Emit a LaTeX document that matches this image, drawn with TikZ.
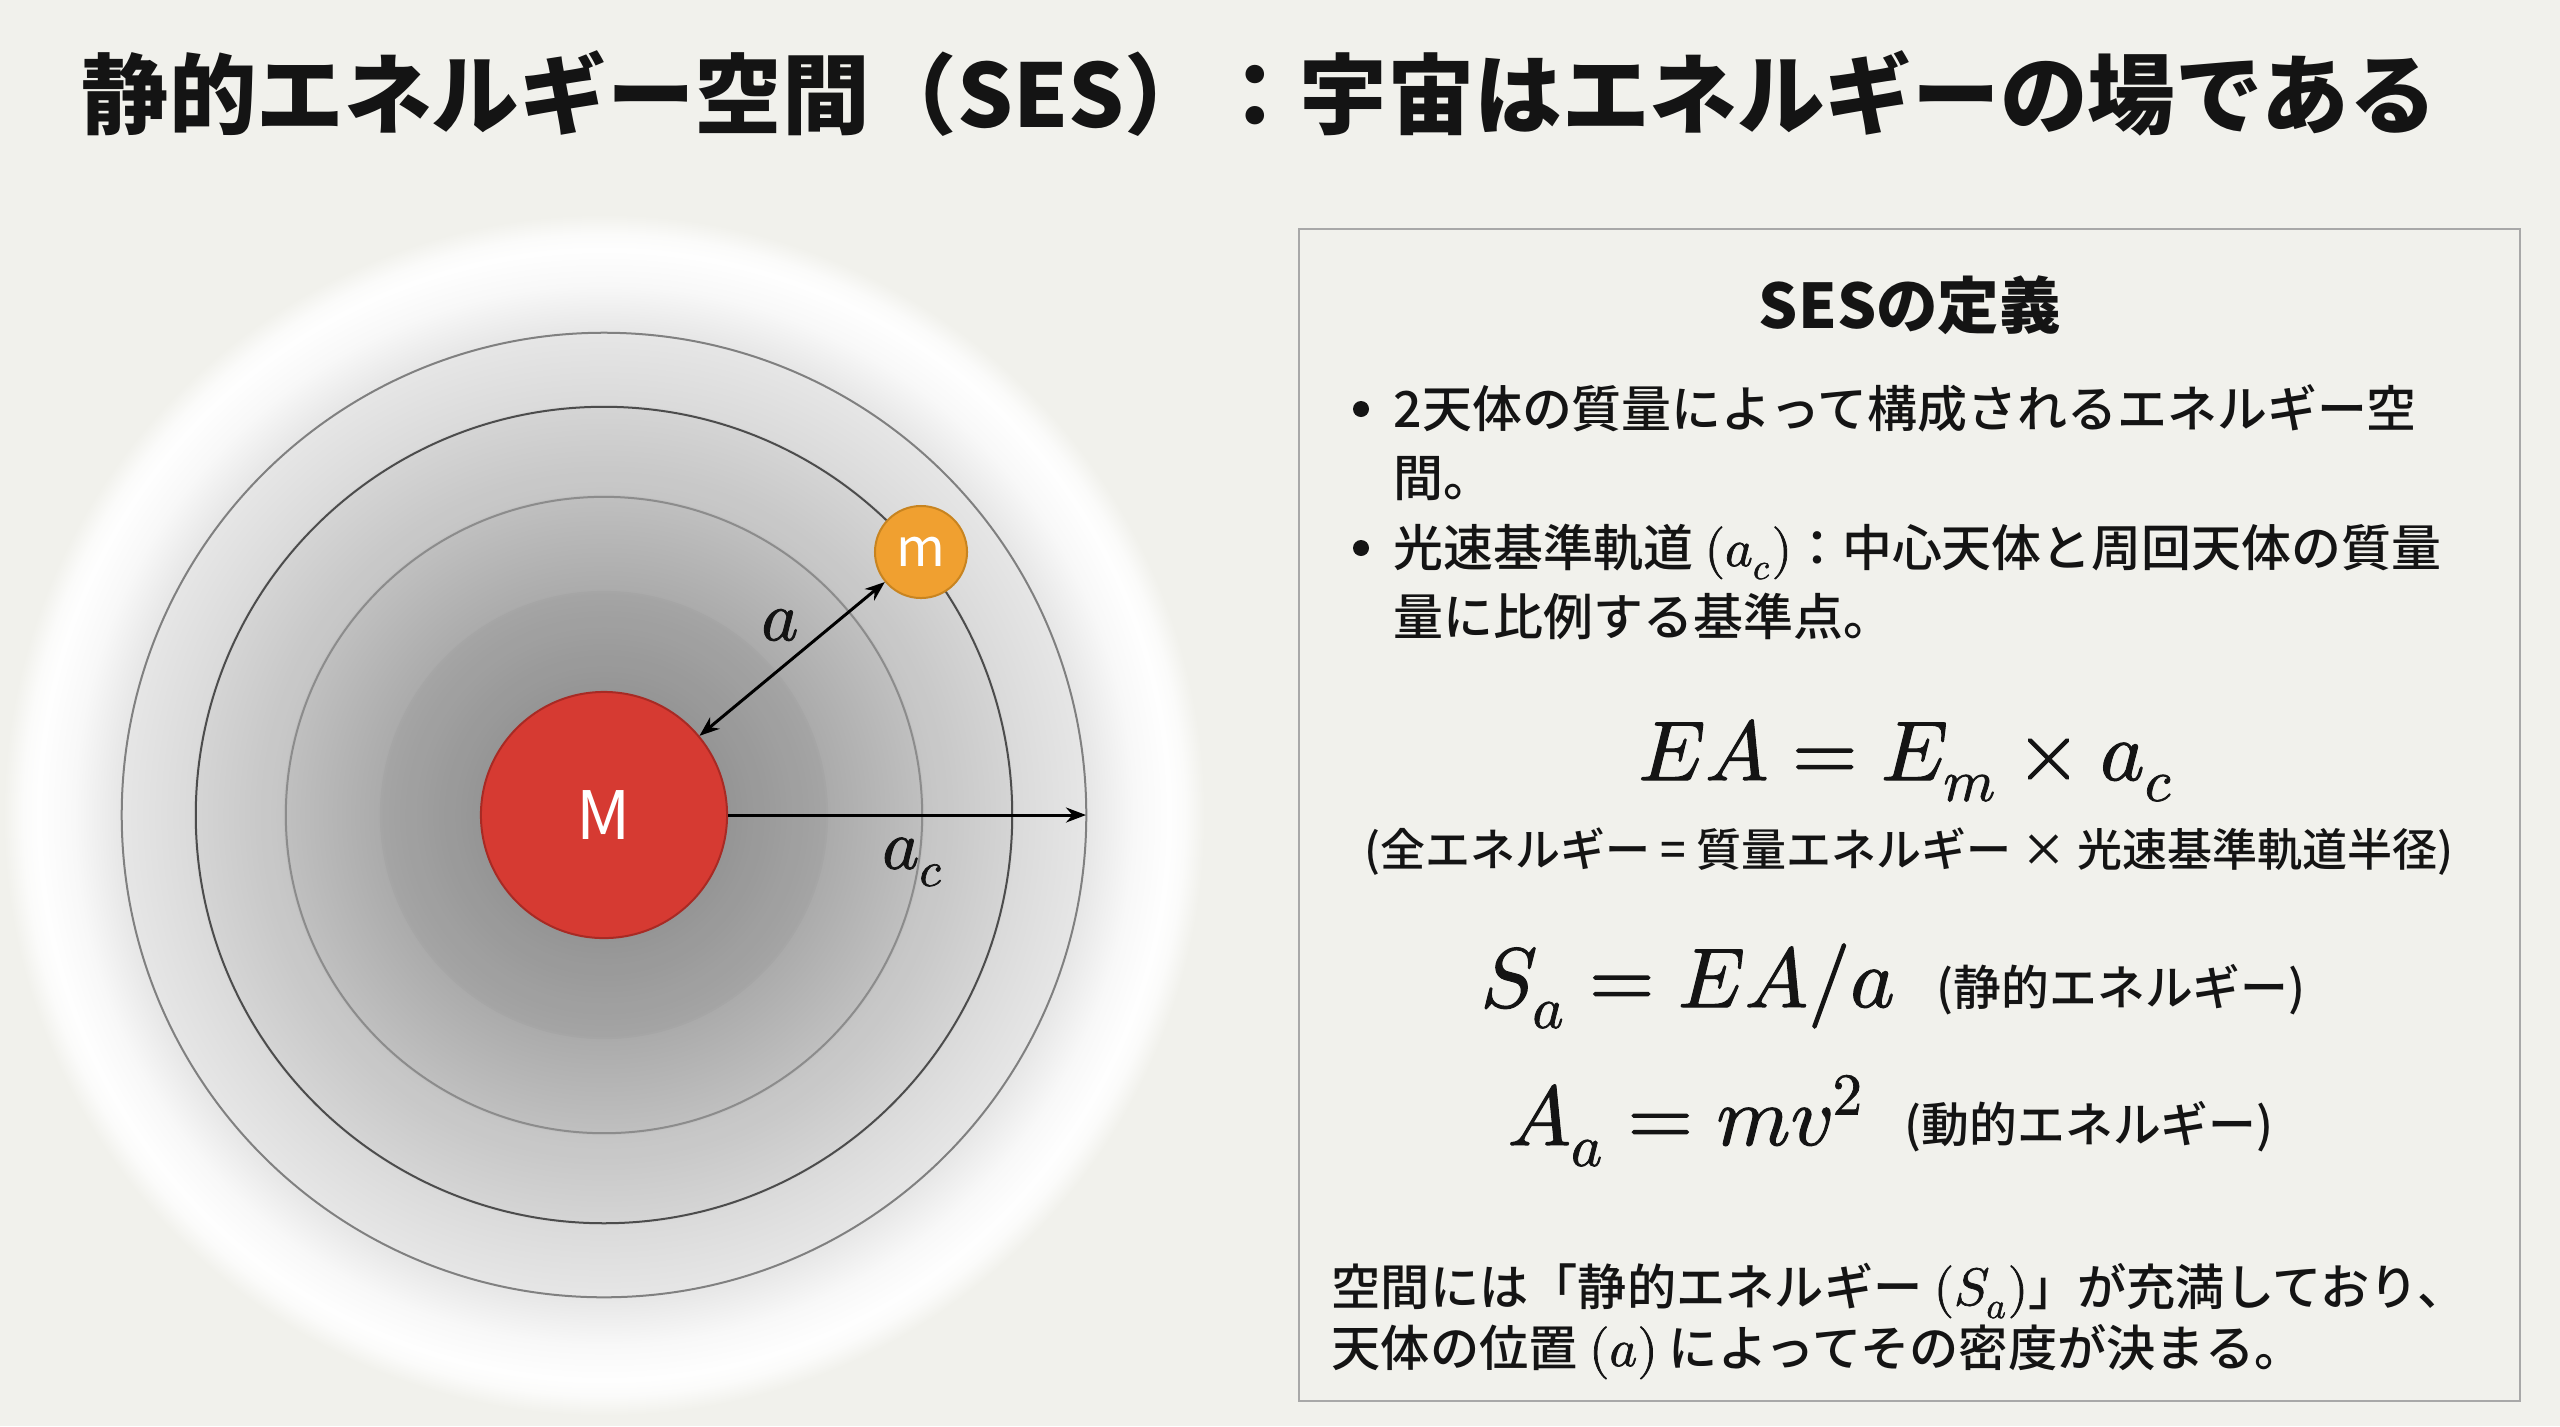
\documentclass[tikz,border=0pt]{standalone}
\usepackage{fontspec}
\usepackage{unicode-math}
\setmainfont{Noto Sans CJK JP}
\setmathfont{Latin Modern Math}[FakeBold=1.3]
\newfontfamily\jpmed{Noto Sans CJK JP Medium}
\usetikzlibrary{arrows.meta}
\definecolor{bg}{HTML}{F1F1EC}
\definecolor{ink}{HTML}{141414}
\definecolor{g0}{HTML}{9A9A9A}
\definecolor{g1}{HTML}{A2A2A2}
\definecolor{g2}{HTML}{B4B4B4}
\definecolor{g3}{HTML}{C9C9C9}
\definecolor{g4}{HTML}{DADADA}
\definecolor{g5}{HTML}{E6E6E6}
\definecolor{g6}{HTML}{F8F8F8}
\definecolor{g7}{HTML}{FEFEFE}
\definecolor{g8}{HTML}{FBFBFA}
\definecolor{redM}{HTML}{D63A32}
\definecolor{redMb}{HTML}{A82A24}
\definecolor{orm}{HTML}{F0A030}
\definecolor{ormb}{HTML}{C88420}
\definecolor{boxline}{HTML}{A8A8A8}
\pgfdeclareradialshading{field}{\pgfpoint{0bp}{0bp}}{%
  color(0bp)=(g0); color(5.17bp)=(g1); color(9.33bp)=(g2); color(13.33bp)=(g3);
  color(17.08bp)=(g4); color(20.08bp)=(g5); color(22.08bp)=(g6); color(23.54bp)=(g7);
  color(24.17bp)=(g8); color(25bp)=(bg); color(50bp)=(bg)}
\newcommand{\inmath}[1]{{\fontsize{15}{17}\selectfont$#1$}}
\tikzset{
  body/.style={font=\jpmed\fontsize{14.2}{17}\selectfont, anchor=base west, inner sep=0pt, text=ink},
  para/.style={font=\jpmed\fontsize{14}{17}\selectfont, anchor=base west, inner sep=0pt, text=ink},
  note/.style={font=\jpmed\fontsize{13.6}{16}\selectfont, anchor=base west, inner sep=0pt, text=ink},
  eqn/.style={font=\fontsize{24}{29}\selectfont, inner sep=0pt, text=ink},
  bul/.style={circle, fill=ink, minimum size=0.16cm, inner sep=0pt},
  orbit/.style={line width=0.02cm},
  dim/.style={line width=0.03cm, draw=black},
  mathlbl/.style={font=\fontsize{20}{24}\selectfont, inner sep=0pt, text=ink}
}
\begin{document}
\begin{tikzpicture}[x=0.01cm,y=-0.01cm]
\fill[bg] (0,0) rectangle (2560,1426);
\useasboundingbox (0,0) rectangle (2560,1426);
% title
\node[font=\bfseries\fontsize{24.9}{30}\selectfont, anchor=base west, inner sep=0pt, text=ink] (title) at (81,127) {静的エネルギー空間（SES）：宇宙はエネルギーの場である};
% energy field
\shade[shading=field] (604,815) circle[radius=6.0cm];
\fill[black, opacity=0.02] (604,815) circle[radius=4.10cm];
\fill[black, opacity=0.025] (604,815) circle[radius=3.20cm];
\fill[black, opacity=0.03] (604,815) circle[radius=2.23cm];
\draw[orbit, draw=black!50] (604,815) circle[radius=4.82cm];
\draw[orbit, draw=black!70] (604,815) circle[radius=4.08cm];
\draw[orbit, draw=black!45] (604,815) circle[radius=3.18cm];
\draw[orbit, draw=black!35] (604,815) circle[radius=2.23cm];
% bodies
\node[circle, fill=redM, draw=redMb, line width=0.02cm, minimum size=2.46cm, inner sep=0pt,
      text=white, font=\fontsize{19}{23}\selectfont] (M) at (604,815) {M};
\node[circle, fill=orm, draw=ormb, line width=0.02cm, minimum size=0.92cm, inner sep=0pt,
      text=white, font=\fontsize{15}{18}\selectfont] (m) at (921,552) {m};
\coordinate (acend) at (1086,815);
\draw[dim, {Stealth[length=0.2cm,width=0.15cm]}-{Stealth[length=0.2cm,width=0.15cm]}] (M) -- (m);
\draw[dim, -{Stealth[length=0.2cm,width=0.15cm]}] (M.east) -- (acend);
\node[mathlbl] (la) at (780,625) {$a$};
\node[mathlbl] (lac) at (913,862) {$a_c$};
% definition box
\draw[boxline, line width=0.02cm] (1299,229) rectangle (2520,1401);
\node[font=\bfseries\fontsize{17.5}{21}\selectfont, inner sep=0pt, text=ink] (head) at (1910,305) {SESの定義};
\node[bul] (d1) at (1361,409) {};
\node[body] (b1a) at (1393,427) {2天体の質量によって構成されるエネルギー空};
\node[body] (b1b) at (1393,496) {間。};
\node[bul] (d2) at (1361,548) {};
\node[body] (b2a) at (1393,566) {光速基準軌道 \inmath{(a_c)}：中心天体と周回天体の質量};
\node[body] (b2b) at (1393,635) {量に比例する基準点。};
\node[eqn, anchor=base] (eq1) at (1906,780) {$EA = E_m \times a_c$};
\node[font=\jpmed\fontsize{12.8}{15}\selectfont, anchor=base, inner sep=0pt, text=ink] (eq1n) at (1909,866) {(全エネルギー = 質量エネルギー × 光速基準軌道半径)};
\node[eqn, anchor=base west] (eq2) at (1480,1007) {$S_a = EA/a$};
\node[note] (eq2n) at (1936,1005) {(静的エネルギー)};
\node[eqn, anchor=base west] (eq3) at (1507,1145) {$A_a = mv^2$};
\node[note] (eq3n) at (1904,1142) {(動的エネルギー)};
\node[para] (p1) at (1331,1305) {空間には「静的エネルギー \inmath{(S_a)}」が充満しており、};
\node[para] (p2) at (1331,1366) {天体の位置 \inmath{(a)} によってその密度が決まる。};
\end{tikzpicture}
\end{document}
